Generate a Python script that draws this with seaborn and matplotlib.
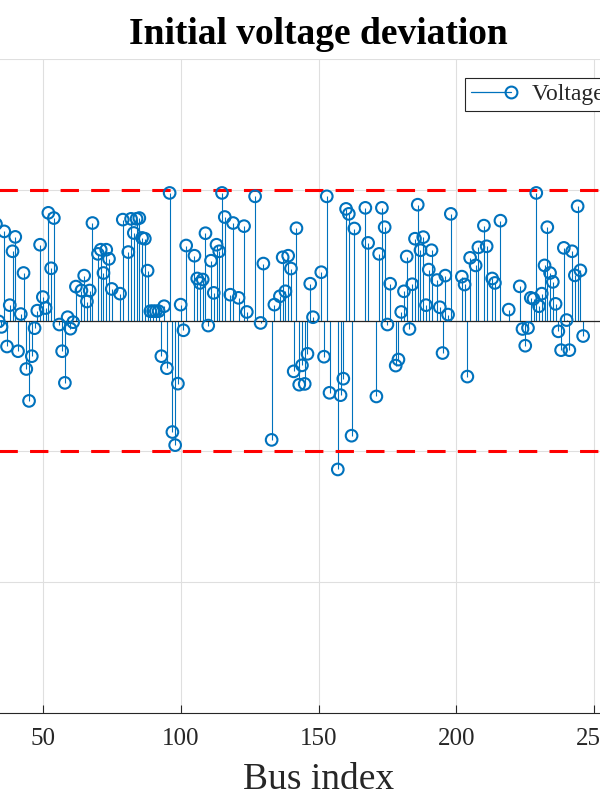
import matplotlib
matplotlib.use("Agg")
import matplotlib.pyplot as plt
import numpy as np
import seaborn as sns
from matplotlib.lines import Line2D
from matplotlib.legend_handler import HandlerLine2D

# Voltage deviation (p.u.) per bus.
bus = [
    33, 34, 35, 36, 37, 38, 39, 40, 41, 42, 43, 44, 45, 46, 47, 48, 49, 50,
    51, 52, 53, 54, 56, 57, 58, 59, 60, 61, 62, 64, 65, 66, 67, 68, 70, 71,
    72, 73, 74, 75, 78, 79, 81, 82, 83, 84, 85, 86, 87, 88, 89, 90, 91, 92,
    93, 94, 95, 96, 97, 98, 99, 100, 101, 102, 105, 106, 107, 108, 109, 110,
    111, 112, 113, 114, 115, 116, 118, 119, 121, 123, 124, 127, 129, 130,
    133, 134, 136, 137, 138, 139, 140, 141, 142, 143, 144, 145, 146, 147,
    148, 151, 152, 153, 154, 157, 158, 159, 160, 161, 162, 163, 167, 168,
    171, 172, 173, 174, 175, 176, 178, 179, 180, 181, 182, 183, 184, 185,
    186, 187, 188, 189, 190, 191, 193, 194, 195, 196, 197, 198, 202, 203,
    204, 205, 207, 208, 210, 211, 213, 214, 216, 219, 223, 224, 225, 226,
    227, 228, 229, 230, 231, 232, 233, 234, 235, 236, 237, 238, 239, 240,
    241, 242, 243, 244, 245, 246,
]
dv = [
    0.0369, -0.0003, -0.0024, 0.0341, -0.0099, 0.0059, 0.0265, 0.0320,
    -0.0117, 0.0025, 0.0182, -0.0185, -0.0307, -0.0136, -0.0029, 0.0038,
    0.0290, 0.0090, 0.0048, 0.0412, 0.0200, 0.0392, -0.0015, -0.0117,
    -0.0238, 0.0013, -0.0031, -0.0006, 0.0130, 0.0115, 0.0172, 0.0073,
    0.0115, 0.0373, 0.0255, 0.0271, 0.0182, 0.0271, 0.0236, 0.0121,
    0.0103, 0.0386, 0.0262, 0.0389, 0.0335, 0.0389, 0.0392, 0.0316,
    0.0313, 0.0191, 0.0036, 0.0036, 0.0036, 0.0036, -0.0136, 0.0055,
    -0.0182, 0.0488, -0.0426, -0.0476, -0.0241, 0.0061, -0.0037, 0.0287,
    0.0248, 0.0161, 0.0144, 0.0157, 0.0334, -0.0019, 0.0229, 0.0106,
    0.0290, 0.0265, 0.0488, 0.0396, 0.0099, 0.0373, 0.0087, 0.0361,
    0.0033, 0.0475, -0.0009, 0.0218, -0.0456, 0.0061, 0.0093, 0.0242,
    0.0112, 0.0248, 0.0199, -0.0194, 0.0353, -0.0245, -0.0171, -0.0242,
    -0.0127, 0.0141, 0.0013, 0.0185, -0.0138, 0.0475, -0.0276, -0.0569,
    -0.0285, -0.0222, 0.0427, 0.0408, -0.0440, 0.0352, 0.0431, 0.0297,
    -0.0290, 0.0255, 0.0431, 0.0357, -0.0015, 0.0141, -0.0172, -0.0149,
    0.0033, 0.0112, 0.0245, -0.0032, 0.0139, 0.0313, 0.0443, 0.0269,
    0.0319, 0.0059, 0.0195, 0.0269, 0.0155, 0.0051, -0.0124, 0.0172,
    0.0023, 0.0408, 0.0168, 0.0138, -0.0214, 0.0240, 0.0211, 0.0280,
    0.0363, 0.0284, 0.0161, 0.0144, 0.0382, 0.0042, 0.0131, -0.0032,
    -0.0096, -0.0028, 0.0087, 0.0083, 0.0488, 0.0055, 0.0103, 0.0211,
    0.0357, 0.0182, 0.0148, 0.0064, -0.0041, -0.0113, 0.0278, 0.0002,
    -0.0113, 0.0265, 0.0173, 0.0437, 0.0192, -0.0059,
]
limit = 0.05
x_ticks = [0, 50, 100, 150, 200, 250, 300]
y_ticks = [-0.15, -0.1, -0.05, 0, 0.05, 0.1]

blue = "#0072BD"
dark = "#262626"

sns.set_theme(style="whitegrid")
plt.rcParams["font.family"] = ["Liberation Serif", "DejaVu Serif"]


class EndMarkerHandler(HandlerLine2D):
    # MATLAB puts the stem marker at the right end of the legend line
    def create_artists(self, legend, orig_handle, xdescent, ydescent,
                       width, height, fontsize, trans):
        y = (height - ydescent) / 2
        line = Line2D([-xdescent, -xdescent + width], [y, y])
        self.update_prop(line, orig_handle, legend)
        line.set_markevery([1])
        line.set_transform(trans)
        return [line]


fig = plt.figure(figsize=(6, 8), dpi=100)
fig.patch.set_facecolor("white")
# The picture is a crop of a wider figure, so the axes run past both edges.
ax = fig.add_axes([-95 / 600, 87 / 800, 827 / 600, 654 / 800])
ax.set_facecolor("white")

ax.vlines(bus, 0, dv, color=blue, lw=0.8, zorder=2)
ax.axhline(0, color=dark, lw=0.9, zorder=2.5)
for lim in (limit, -limit):
    ax.axhline(lim, color="red", lw=2.2, dashes=(6, 4), zorder=2.6)
sns.scatterplot(
    x=bus, y=dv, ax=ax, marker="o", s=70,
    facecolor="none", edgecolor=blue, linewidth=1.5, zorder=3
)

ax.set_xlim(0, 300)
ax.set_ylim(-0.15, 0.1)
ax.set_xticks(x_ticks)
ax.set_yticks(y_ticks)
ax.grid(True, color="#dfdfdf", lw=0.8)
ax.set_axisbelow(True)
for side in ("top", "right"):
    ax.spines[side].set_visible(False)
for side in ("bottom", "left"):
    ax.spines[side].set_color(dark)
    ax.spines[side].set_linewidth(0.8)
ax.tick_params(direction="in", length=5.5, width=0.8, color=dark,
               labelcolor=dark, labelsize=18, pad=11,
               bottom=True, left=True)

ax.set_title("Initial voltage deviation", fontsize=27, fontweight="bold",
             color="black", pad=11)
ax.set_xlabel("Bus index", fontsize=27, color=dark, labelpad=9)

handle = Line2D([], [], color=blue, lw=0.9, marker="o", markersize=8.5,
                markerfacecolor="none", markeredgecolor=blue,
                markeredgewidth=1.5)
leg = ax.legend(
    handles=[handle], labels=["Voltage deviation"],
    handler_map={handle: EndMarkerHandler()},
    loc="upper left", bbox_to_anchor=(465 / 600, 1 - 78 / 800),
    bbox_transform=fig.transFigure, borderaxespad=0,
    fancybox=False, framealpha=1, edgecolor=dark,
    prop={"size": 17}, handlelength=1.7, handletextpad=0.9, borderpad=0.25
)
leg.get_frame().set_linewidth(0.8)

fig.savefig("out.png", dpi=100)
